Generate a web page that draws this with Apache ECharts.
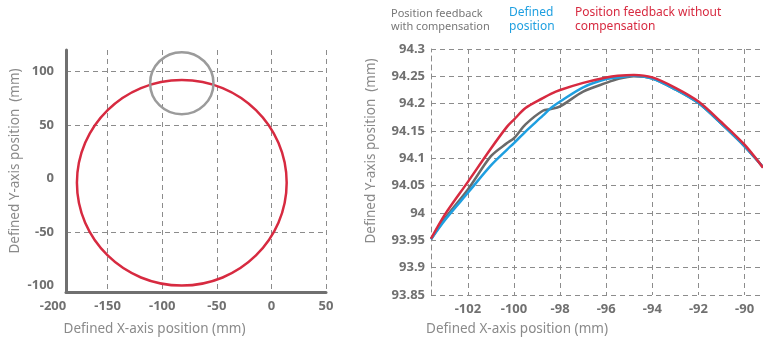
<!DOCTYPE html>
<html>
<head>
<meta charset="utf-8">
<script src="https://cdn.jsdelivr.net/npm/echarts@6/dist/echarts.min.js"></script>
<style>
html,body{margin:0;padding:0;background:#fff;}
#c{width:763px;height:341px;}
</style>
</head>
<body>
<div id="c"></div>
<script>
// ---- Left chart: circular path (center x, center y, radius), mm ----
const pathCircle = [[-82, -4, 96]];
const zoomCircle = [[-82, 89, 29]];
const leftXTicks = [-200, -150, -100, -50, 0, 50];
const leftXGrid = [-150, -100, -50, 0, 50];
const leftYTicks = [-100, -50, 0, 50, 100];
const leftYGrid = [-50, 50, 100];

// ---- Right chart: zoomed top of the circle ----
const xPos = [-103.6, -103, -102, -101, -100.3, -100, -99.5, -98.75, -98.4, -98, -97, -96, -95.5, -94.8, -94, -93, -92, -91, -90, -89.2];
const fbWithComp = [93.952, 93.99, 94.043, 94.104, 94.128, 94.137, 94.162, 94.187, 94.19, 94.195, 94.222, 94.238, 94.245, 94.25, 94.246, 94.226, 94.201, 94.163, 94.122, 94.084];
const definedPos = [93.952, 93.987, 94.037, 94.087, 94.116, 94.128, 94.149, 94.178, 94.192, 94.204, 94.23, 94.245, 94.248, 94.251, 94.246, 94.226, 94.201, 94.163, 94.122, 94.084];
const fbWithoutComp = [93.953, 93.997, 94.057, 94.118, 94.158, 94.171, 94.192, 94.21, 94.218, 94.225, 94.238, 94.248, 94.251, 94.2525, 94.248, 94.229, 94.204, 94.166, 94.125, 94.083];
const rightXTicks = [-102, -100, -98, -96, -94, -92, -90];

const names = ['Position feedback\nwith compensation', 'Defined\nposition', 'Position feedback without\ncompensation'];
const RED = '#d72a40', BLUE = '#1e9fe0', GRAY = '#6a6a6a', CIRCLE_GRAY = '#9b9b9b';
const FONT = 'Noto Sans';
const labelStyle = {color: '#707070', fontWeight: 'bold', fontSize: 13, fontFamily: FONT};
const nameStyle = {color: '#8a8a8a', fontSize: 13.5, fontFamily: FONT};
const gridLine = {show: true, lineStyle: {color: '#8c8c8c', width: 1, type: [5, 4]}};

function zip(xs, ys) { return xs.map((x, i) => [x, ys[i]]); }

function circleItem(color) {
  return function (params, api) {
    const c = api.coord([api.value(0), api.value(1)]);
    const s = api.size([api.value(2), api.value(2)]);
    return {
      type: 'ellipse',
      shape: {cx: c[0], cy: c[1], rx: s[0], ry: s[1]},
      style: {fill: 'none', stroke: color, lineWidth: 2.5}
    };
  };
}

const chart = echarts.init(document.getElementById('c'), null, {renderer: 'canvas'});
chart.setOption({
  animation: false,
  textStyle: {fontFamily: FONT},
  legend: {
    left: 381, top: 2, itemGap: 8, itemWidth: 0, itemHeight: 0, icon: 'rect',
    selectedMode: false,
    data: names,
    formatter: function (n) {
      if (n === names[0]) return '{g|Position feedback}\n{g|with compensation}';
      if (n === names[1]) return '{b|Defined}\n{b|position}';
      return '{r|Position feedback without}\n{r|compensation}';
    },
    textStyle: {
      fontFamily: FONT,
      rich: {
        g: {color: '#777', fontSize: 11, lineHeight: 13, width: 105, fontFamily: FONT},
        b: {color: BLUE, fontSize: 12, lineHeight: 14, width: 53, fontFamily: FONT},
        r: {color: RED, fontSize: 12, lineHeight: 14, fontFamily: FONT}
      }
    }
  },
  grid: [
    {left: 66, right: 437, top: 50, bottom: 49},
    {left: 53, right: 437, top: 50, bottom: 49},
    {left: 431, right: 0, top: 49, bottom: 46}
  ],
  xAxis: [
    {
      type: 'value', gridIndex: 0, min: -188, max: 50,
      axisLine: {show: true, onZero: false, lineStyle: {color: '#707070', width: 3}},
      axisTick: {show: false, customValues: leftXGrid},
      axisLabel: {show: false},
      splitLine: gridLine
    },
    {
      type: 'value', gridIndex: 1, min: -200, max: 50,
      axisLine: {show: false, onZero: false}, axisTick: {show: false}, splitLine: {show: false},
      axisLabel: {customValues: leftXTicks, margin: 9, ...labelStyle},
      name: 'Defined X-axis position (mm)', nameLocation: 'middle', nameGap: 31,
      nameTextStyle: {...nameStyle, padding: [0, 70, 0, 0]}
    },
    {
      type: 'value', gridIndex: 2, min: -103.6, max: -89.2,
      axisLine: {show: false, onZero: false},
      axisTick: {show: false, customValues: rightXTicks},
      axisLabel: {customValues: rightXTicks, margin: 8, ...labelStyle},
      splitLine: gridLine,
      name: 'Defined X-axis position (mm)', nameLocation: 'middle', nameGap: 27,
      nameTextStyle: {...nameStyle, padding: [0, 160, 0, 0]}
    }
  ],
  yAxis: [
    {
      type: 'value', gridIndex: 0, min: -106, max: 120,
      axisLine: {show: true, onZero: false, lineStyle: {color: '#707070', width: 3}},
      axisTick: {show: false, customValues: leftYGrid},
      axisLabel: {customValues: leftYTicks, margin: 12, ...labelStyle},
      splitLine: gridLine,
      name: 'Defined Y-axis position  (mm)', nameLocation: 'middle', nameGap: 44,
      nameTextStyle: {...nameStyle, padding: [0, 0, 0, 20]}
    },
    {type: 'value', gridIndex: 1, show: false},
    {
      type: 'value', gridIndex: 2, min: 93.85, max: 94.3, interval: 0.05,
      axisLine: {show: true, onZero: false, lineStyle: {color: '#8c8c8c', width: 1, type: [5, 4]}},
      axisTick: {show: false},
      axisLabel: {margin: 6, ...labelStyle},
      splitLine: gridLine,
      name: 'Defined Y-axis position  (mm)', nameLocation: 'middle', nameGap: 53,
      nameTextStyle: {...nameStyle, padding: [0, 0, 0, 42]}
    }
  ],
  series: [
    {
      name: 'Circular path', type: 'custom', coordinateSystem: 'cartesian2d',
      xAxisIndex: 0, yAxisIndex: 0, encode: {x: 0, y: 1},
      renderItem: circleItem(RED), data: pathCircle, silent: true
    },
    {
      name: 'Zoomed region', type: 'custom', coordinateSystem: 'cartesian2d',
      xAxisIndex: 0, yAxisIndex: 0, encode: {x: 0, y: 1},
      renderItem: circleItem(CIRCLE_GRAY), data: zoomCircle, silent: true
    },
    {
      name: names[0], type: 'line', xAxisIndex: 2, yAxisIndex: 2,
      data: zip(xPos, fbWithComp), smooth: 0.3, showSymbol: false, symbol: 'none',
      lineStyle: {color: GRAY, width: 2.5}, itemStyle: {color: GRAY}
    },
    {
      name: names[1], type: 'line', xAxisIndex: 2, yAxisIndex: 2,
      data: zip(xPos, definedPos), smooth: 0.3, showSymbol: false, symbol: 'none',
      lineStyle: {color: BLUE, width: 2.5}, itemStyle: {color: BLUE}
    },
    {
      name: names[2], type: 'line', xAxisIndex: 2, yAxisIndex: 2,
      data: zip(xPos, fbWithoutComp), smooth: 0.3, showSymbol: false, symbol: 'none',
      lineStyle: {color: RED, width: 2.5}, itemStyle: {color: RED}
    }
  ]
});
</script>
</body>
</html>
